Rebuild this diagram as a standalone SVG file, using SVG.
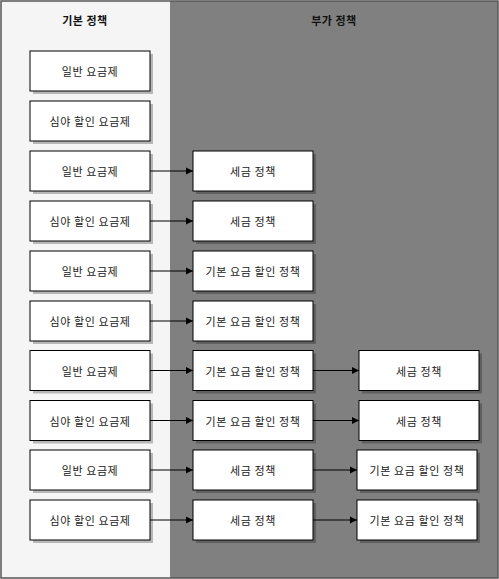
<svg xmlns="http://www.w3.org/2000/svg" width="499" height="579" viewBox="0 0 499 579">
<style>
.box{fill:#fff;stroke:#000;stroke-width:1}
.sh{fill:#000;opacity:0.25}
.t{font-family:"Noto Sans CJK KR","Noto Sans",sans-serif;font-size:11px;letter-spacing:0.6px;fill:#222;text-anchor:middle;dominant-baseline:central}
.h{font-family:"Noto Sans CJK KR","Noto Sans",sans-serif;font-size:11px;letter-spacing:0.5px;font-weight:bold;fill:#111;text-anchor:middle;dominant-baseline:central}
.c{stroke:#000;stroke-width:1;fill:none;marker-end:url(#a)}
</style>
<defs>
<marker id="a" markerWidth="8" markerHeight="8" refX="7" refY="4" orient="auto" markerUnits="userSpaceOnUse"><path d="M0,0.5 L7,4 L0,7.5 Z" fill="#000"/></marker>
</defs>
<g id="lanes">
<rect x="1" y="1" width="169" height="577" fill="#f5f5f5"/>
<rect x="170" y="1" width="328" height="577" fill="#808080"/>
<rect x="1" y="1" width="497" height="577" fill="none" stroke="#555" stroke-width="1.5"/>
<text class="h" x="85" y="20">기본 정책</text>
<text class="h" x="334" y="20">부가 정책</text>
</g>
<g id="connectors">
<path class="c" d="M150,171 L193,171"/>
<path class="c" d="M150,221 L193,221"/>
<path class="c" d="M150,271 L193,271"/>
<path class="c" d="M150,321 L193,321"/>
<path class="c" d="M150,370.5 L193,370.5"/>
<path class="c" d="M150,420.5 L193,420.5"/>
<path class="c" d="M150,470 L193,470"/>
<path class="c" d="M150,520 L193,520"/>
<path class="c" d="M313,370.5 L359,370.5"/>
<path class="c" d="M313,420.5 L359,420.5"/>
<path class="c" d="M313,470 L357,470"/>
<path class="c" d="M313,520 L357,520"/>
</g>
<g id="b1"><rect class="sh" x="33" y="54" width="120" height="40"/><rect class="box" x="30" y="51" width="120" height="40"/><text class="t" x="90" y="71">일반 요금제</text></g>
<g id="b2"><rect class="sh" x="33" y="104" width="120" height="40"/><rect class="box" x="30" y="101" width="120" height="40"/><text class="t" x="90" y="121">심야 할인 요금제</text></g>
<g id="b3"><rect class="sh" x="33" y="154" width="120" height="40"/><rect class="box" x="30" y="151" width="120" height="40"/><text class="t" x="90" y="171">일반 요금제</text></g>
<g id="b4"><rect class="sh" x="33" y="204" width="120" height="40"/><rect class="box" x="30" y="201" width="120" height="40"/><text class="t" x="90" y="221">심야 할인 요금제</text></g>
<g id="b5"><rect class="sh" x="33" y="254" width="120" height="40"/><rect class="box" x="30" y="251" width="120" height="40"/><text class="t" x="90" y="271">일반 요금제</text></g>
<g id="b6"><rect class="sh" x="33" y="304" width="120" height="40"/><rect class="box" x="30" y="301" width="120" height="40"/><text class="t" x="90" y="321">심야 할인 요금제</text></g>
<g id="b7"><rect class="sh" x="33" y="353.5" width="120" height="40"/><rect class="box" x="30" y="350.5" width="120" height="40"/><text class="t" x="90" y="370.5">일반 요금제</text></g>
<g id="b8"><rect class="sh" x="33" y="403.5" width="120" height="40"/><rect class="box" x="30" y="400.5" width="120" height="40"/><text class="t" x="90" y="420.5">심야 할인 요금제</text></g>
<g id="b9"><rect class="sh" x="33" y="453" width="120" height="40"/><rect class="box" x="30" y="450" width="120" height="40"/><text class="t" x="90" y="470">일반 요금제</text></g>
<g id="b10"><rect class="sh" x="33" y="503" width="120" height="40"/><rect class="box" x="30" y="500" width="120" height="40"/><text class="t" x="90" y="520">심야 할인 요금제</text></g>
<g id="m3"><rect class="sh" x="196" y="154" width="120" height="40"/><rect class="box" x="193" y="151" width="120" height="40"/><text class="t" x="253" y="171">세금 정책</text></g>
<g id="m4"><rect class="sh" x="196" y="204" width="120" height="40"/><rect class="box" x="193" y="201" width="120" height="40"/><text class="t" x="253" y="221">세금 정책</text></g>
<g id="m5"><rect class="sh" x="196" y="254" width="120" height="40"/><rect class="box" x="193" y="251" width="120" height="40"/><text class="t" x="253" y="271">기본 요금 할인 정책</text></g>
<g id="m6"><rect class="sh" x="196" y="304" width="120" height="40"/><rect class="box" x="193" y="301" width="120" height="40"/><text class="t" x="253" y="321">기본 요금 할인 정책</text></g>
<g id="m7"><rect class="sh" x="196" y="353.5" width="120" height="40"/><rect class="box" x="193" y="350.5" width="120" height="40"/><text class="t" x="253" y="370.5">기본 요금 할인 정책</text></g>
<g id="m8"><rect class="sh" x="196" y="403.5" width="120" height="40"/><rect class="box" x="193" y="400.5" width="120" height="40"/><text class="t" x="253" y="420.5">기본 요금 할인 정책</text></g>
<g id="m9"><rect class="sh" x="196" y="453" width="120" height="40"/><rect class="box" x="193" y="450" width="120" height="40"/><text class="t" x="253" y="470">세금 정책</text></g>
<g id="m10"><rect class="sh" x="196" y="503" width="120" height="40"/><rect class="box" x="193" y="500" width="120" height="40"/><text class="t" x="253" y="520">세금 정책</text></g>
<g id="r7"><rect class="sh" x="362" y="353.5" width="120" height="40"/><rect class="box" x="359" y="350.5" width="120" height="40"/><text class="t" x="419" y="370.5">세금 정책</text></g>
<g id="r8"><rect class="sh" x="362" y="403.5" width="120" height="40"/><rect class="box" x="359" y="400.5" width="120" height="40"/><text class="t" x="419" y="420.5">세금 정책</text></g>
<g id="r9"><rect class="sh" x="360" y="453" width="120" height="40"/><rect class="box" x="357" y="450" width="120" height="40"/><text class="t" x="417" y="470">기본 요금 할인 정책</text></g>
<g id="r10"><rect class="sh" x="360" y="503" width="120" height="40"/><rect class="box" x="357" y="500" width="120" height="40"/><text class="t" x="417" y="520">기본 요금 할인 정책</text></g>
</svg>
